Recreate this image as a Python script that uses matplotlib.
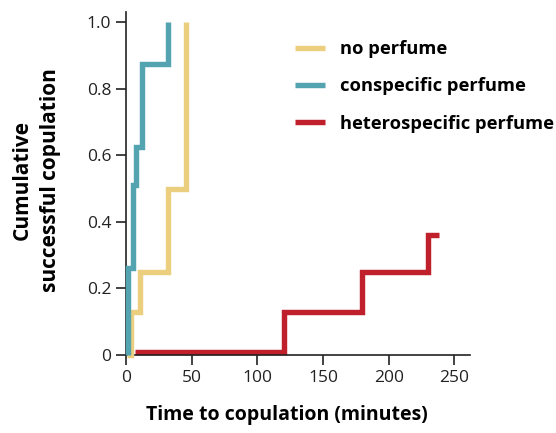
import matplotlib
matplotlib.use("Agg")
import matplotlib.pyplot as plt

plt.rcParams['font.family'] = ['Open Sans', 'DejaVu Sans']

# step data (minutes, cumulative fraction)
no_t = [0.5, 4, 10.5, 32, 46]
no_y = [0.0, 0.13, 0.25, 0.5, 1.0]
con_t = [1.5, 1.5, 5, 7.5, 12, 32]
con_y = [0.0, 0.26, 0.51, 0.625, 0.875, 1.0]
het_t = [7, 120, 180, 230, 238]
het_y = [0.01, 0.13, 0.25, 0.36, 0.36]

labels = ["no perfume", "conspecific perfume", "heterospecific perfume"]
colors = ["#EBCF7E", "#53A3B0", "#C01F2C"]

xticks = [0, 50, 100, 150, 200, 250]
yticks = [0, 0.2, 0.4, 0.6, 0.8, 1.0]
ytick_labels = ["0", "0.2", "0.4", "0.6", "0.8", "1.0"]

fig = plt.figure(figsize=(5.56, 4.33), dpi=100)
ax = fig.add_axes([0.2266, 0.18, 0.619, 0.792])

kw = dict(where='post', lw=3.9, solid_joinstyle='miter', solid_capstyle='butt', clip_on=False)
ax.step(het_t, het_y, color=colors[2], label=labels[2], zorder=2, **kw)
ax.step(no_t, no_y, color=colors[0], label=labels[0], zorder=3, **kw)
ax.step(con_t, con_y, color=colors[1], label=labels[1], zorder=4, **kw)

ax.set_xlim(0, 262)
ax.set_ylim(0, 1.03)
ax.set_xticks(xticks)
ax.set_yticks(yticks)
ax.set_yticklabels(ytick_labels)
for s in ['top', 'right']:
    ax.spines[s].set_visible(False)
for s in ['left', 'bottom']:
    ax.spines[s].set_linewidth(1.2)
    ax.spines[s].set_color('#222222')
ax.tick_params(direction='out', length=7.5, width=1.2, labelsize=12.5, colors='#222222', pad=3)

ax.set_xlabel("Time to copulation (minutes)", fontsize=14, fontweight='bold')
ax.xaxis.set_label_coords(0.468, -0.145)
ax.set_ylabel("Cumulative\nsuccessful copulation", fontsize=15, fontweight='bold',
              linespacing=1.45)
ax.yaxis.set_label_coords(-0.19, 0.51)

h, l = ax.get_legend_handles_labels()
order = [1, 2, 0]
ax.legend([h[i] for i in order], [l[i] for i in order], loc='upper left',
          bbox_to_anchor=(0.47, 0.94), frameon=False,
          prop={'weight': 'bold', 'size': 13.2}, handlelength=1.65, handletextpad=0.8,
          labelspacing=1.05, borderaxespad=0)

fig.savefig("out.png", dpi=100)
